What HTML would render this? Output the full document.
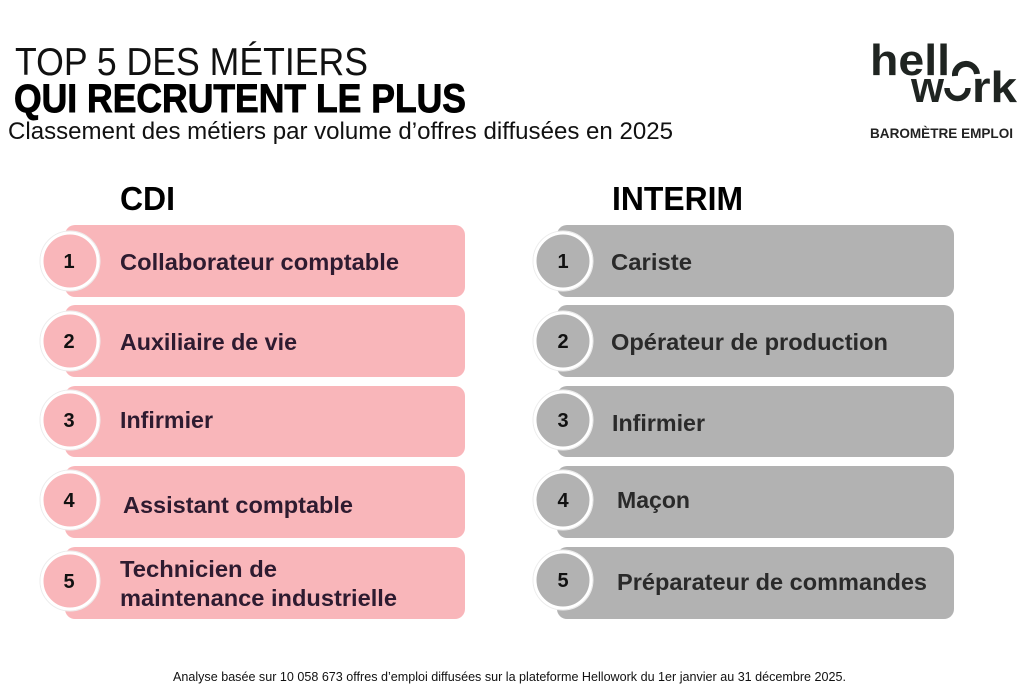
<!DOCTYPE html>
<html>
<head>
<meta charset="utf-8">
<style>
html,body{margin:0;padding:0;background:#fff;}
svg{display:block;}
</style>
</head>
<body>
<svg width="1024" height="696" viewBox="0 0 1024 696" xmlns="http://www.w3.org/2000/svg" font-family="'Liberation Sans', Arial, sans-serif">
  <rect x="0" y="0" width="1024" height="696" fill="#ffffff"/>

  <!-- Titles -->
  <text x="15" y="75" font-size="39" fill="#111" textLength="353" lengthAdjust="spacingAndGlyphs">TOP 5 DES MÉTIERS</text>
  <text x="14" y="112" font-size="40" font-weight="bold" fill="#000" stroke="#000" stroke-width="0.9" textLength="452" lengthAdjust="spacingAndGlyphs">QUI RECRUTENT LE PLUS</text>
  <text x="8" y="139" font-size="24" fill="#111" textLength="665" lengthAdjust="spacingAndGlyphs">Classement des métiers par volume d’offres diffusées en 2025</text>

  <!-- Logo -->
  <g fill="#1f2421">
    <text x="870" y="75" font-size="44" font-weight="bold" textLength="80" lengthAdjust="spacingAndGlyphs">hell</text>
    <path d="M 955 76 A 11 11 0 1 1 977 74" fill="none" stroke="#1f2421" stroke-width="6"/>
    <text x="911" y="102" font-size="44" font-weight="bold" textLength="33" lengthAdjust="spacingAndGlyphs">w</text>
    <path d="M 947 88 A 10.5 10.5 0 0 0 968 88" fill="none" stroke="#1f2421" stroke-width="5.5"/>
    <text x="972" y="102" font-size="44" font-weight="bold" textLength="45" lengthAdjust="spacingAndGlyphs">rk</text>
    <text x="870" y="138" font-size="14" font-weight="bold" fill="#222" textLength="143" lengthAdjust="spacingAndGlyphs">BAROMÈTRE EMPLOI</text>
  </g>

  <!-- Column headings -->
  <text x="120" y="210" font-size="33" font-weight="bold" fill="#000" textLength="55" lengthAdjust="spacingAndGlyphs">CDI</text>
  <text x="612" y="210" font-size="33" font-weight="bold" fill="#000" textLength="131" lengthAdjust="spacingAndGlyphs">INTERIM</text>

  <!-- CDI rows -->
  <g fill="#f9b6ba">
    <rect x="65" y="225" width="400" height="72" rx="10"/>
    <rect x="65" y="305" width="400" height="72" rx="10"/>
    <rect x="65" y="386" width="400" height="71" rx="10"/>
    <rect x="65" y="466" width="400" height="72" rx="10"/>
    <rect x="65" y="547" width="400" height="72" rx="10"/>
  </g>
  <g fill="none" stroke="#ececec" stroke-width="1">
    <circle cx="70" cy="261" r="30"/>
    <circle cx="70" cy="341" r="30"/>
    <circle cx="70" cy="420" r="30"/>
    <circle cx="70" cy="500" r="30"/>
    <circle cx="70" cy="581" r="30"/>
  </g>
  <g fill="#f9b6ba" stroke="#ffffff" stroke-width="3">
    <circle cx="70" cy="261" r="28"/>
    <circle cx="70" cy="341" r="28"/>
    <circle cx="70" cy="420" r="28"/>
    <circle cx="70" cy="500" r="28"/>
    <circle cx="70" cy="581" r="28"/>
  </g>
  <g font-size="20" font-weight="bold" fill="#111" text-anchor="middle">
    <text x="69" y="268">1</text>
    <text x="69" y="348">2</text>
    <text x="69" y="427">3</text>
    <text x="69" y="507">4</text>
    <text x="69" y="588">5</text>
  </g>
  <g font-size="23" font-weight="bold" fill="#2e1b30">
    <text x="120" y="270" textLength="279" lengthAdjust="spacingAndGlyphs">Collaborateur comptable</text>
    <text x="120" y="350" textLength="177" lengthAdjust="spacingAndGlyphs">Auxiliaire de vie</text>
    <text x="120" y="428" textLength="93" lengthAdjust="spacingAndGlyphs">Infirmier</text>
    <text x="123" y="513" textLength="230" lengthAdjust="spacingAndGlyphs">Assistant comptable</text>
    <text x="120" y="577" textLength="157" lengthAdjust="spacingAndGlyphs">Technicien de</text>
    <text x="120" y="606" textLength="277" lengthAdjust="spacingAndGlyphs">maintenance industrielle</text>
  </g>

  <!-- INTERIM rows -->
  <g fill="#b2b2b2">
    <rect x="557" y="225" width="397" height="72" rx="10"/>
    <rect x="557" y="305" width="397" height="72" rx="10"/>
    <rect x="557" y="386" width="397" height="71" rx="10"/>
    <rect x="557" y="466" width="397" height="72" rx="10"/>
    <rect x="557" y="547" width="397" height="72" rx="10"/>
  </g>
  <g fill="none" stroke="#ececec" stroke-width="1">
    <circle cx="563" cy="261" r="30"/>
    <circle cx="563" cy="341" r="30"/>
    <circle cx="563" cy="420" r="30"/>
    <circle cx="563" cy="500" r="30"/>
    <circle cx="563" cy="580" r="30"/>
  </g>
  <g fill="#b2b2b2" stroke="#ffffff" stroke-width="3">
    <circle cx="563" cy="261" r="28"/>
    <circle cx="563" cy="341" r="28"/>
    <circle cx="563" cy="420" r="28"/>
    <circle cx="563" cy="500" r="28"/>
    <circle cx="563" cy="580" r="28"/>
  </g>
  <g font-size="20" font-weight="bold" fill="#111" text-anchor="middle">
    <text x="563" y="268">1</text>
    <text x="563" y="348">2</text>
    <text x="563" y="427">3</text>
    <text x="563" y="507">4</text>
    <text x="563" y="587">5</text>
  </g>
  <g font-size="23" font-weight="bold" fill="#2a2a2a">
    <text x="611" y="270" textLength="81" lengthAdjust="spacingAndGlyphs">Cariste</text>
    <text x="611" y="350" textLength="277" lengthAdjust="spacingAndGlyphs">Opérateur de production</text>
    <text x="612" y="431" textLength="93" lengthAdjust="spacingAndGlyphs">Infirmier</text>
    <text x="617" y="508" textLength="73" lengthAdjust="spacingAndGlyphs">Maçon</text>
    <text x="617" y="590" textLength="310" lengthAdjust="spacingAndGlyphs">Préparateur de commandes</text>
  </g>

  <!-- Footer -->
  <text x="173" y="681" font-size="12.5" fill="#111" textLength="673" lengthAdjust="spacingAndGlyphs">Analyse basée sur 10 058 673 offres d’emploi diffusées sur la plateforme Hellowork du 1er janvier au 31 décembre 2025.</text>
</svg>
</body>
</html>
